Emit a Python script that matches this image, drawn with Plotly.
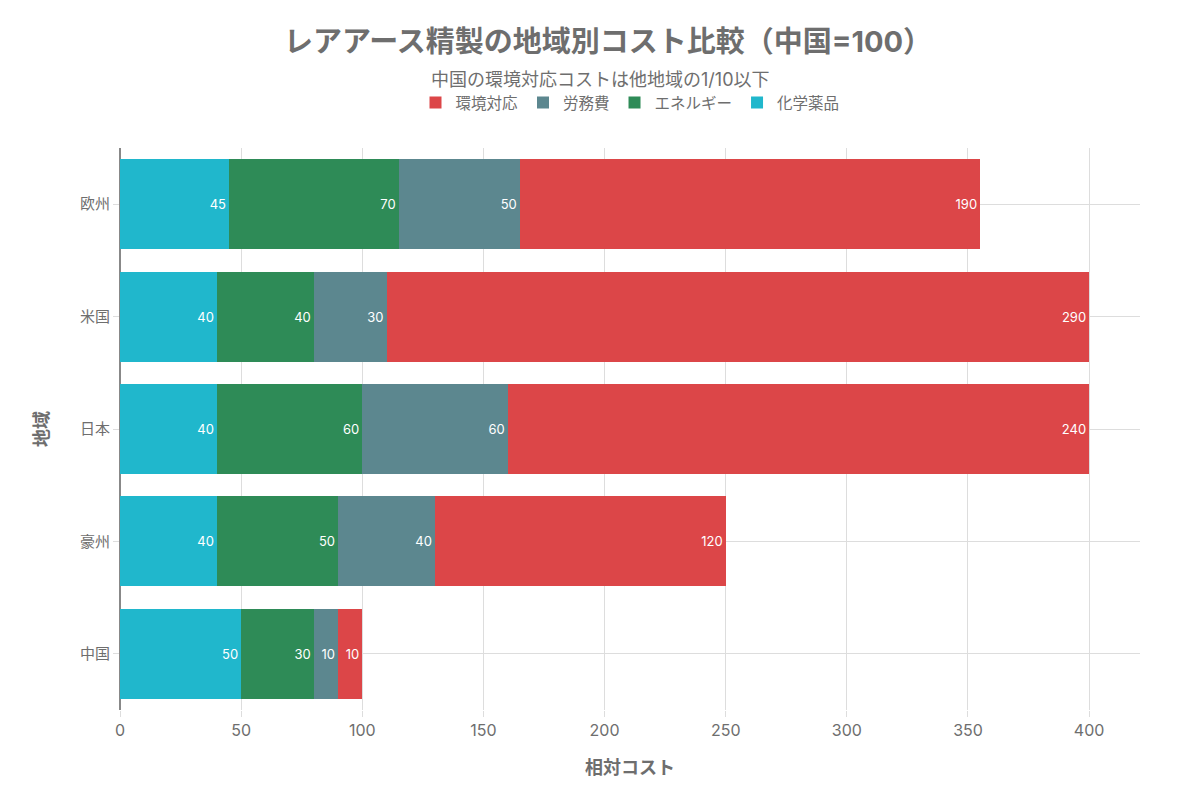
import plotly.graph_objects as go

regions = ['中国', '豪州', '日本', '米国', '欧州']
series_names = ['化学薬品', 'エネルギー', '労務費', '環境対応']
chemicals = [50, 40, 40, 40, 45]
energy = [30, 50, 60, 40, 70]
labor = [10, 40, 60, 30, 50]
environment = [10, 120, 240, 290, 190]

colors = ['#20B7CC', '#2E8B57', '#5C878F', '#DC4648']
FONT = 'Inter, Noto Sans CJK JP'
GRAY = '#6E6E6E'

fig = go.Figure()
for name, vals, col in zip(series_names, [chemicals, energy, labor, environment], colors):
    fig.add_trace(go.Bar(
        y=regions, x=vals, name=name, orientation='h',
        marker=dict(color=col, line=dict(width=0)),
        text=vals, textposition='inside', insidetextanchor='end',
        textfont=dict(color='white', size=13, family=FONT),
    ))

# subtitle sits between title and legend, centred on the page like the title
fig.add_annotation(
    text='中国の環境対応コストは他地域の1/10以下',
    xref='paper', yref='paper', x=0.471, y=1.121, xanchor='center', yanchor='middle',
    showarrow=False, font=dict(size=18, color=GRAY, family=FONT),
)

fig.update_layout(
    barmode='stack',
    bargap=0.2,
    width=1200, height=800,
    template='plotly_white',
    font=dict(family=FONT, color=GRAY, size=14),
    title=dict(
        text='<b>レアアース精製の地域別コスト比較（中国=100）</b>',
        x=0.5, xanchor='center', yref='container', y=1 - 34 / 800, yanchor='middle',
        font=dict(size=29, color=GRAY, family=FONT),
    ),
    legend=dict(orientation='h', x=0.5, xanchor='center', y=1.080, yanchor='middle',
                traceorder='reversed', font=dict(size=15.5, color=GRAY)),
    margin=dict(l=112, r=68, t=140, b=98),
    plot_bgcolor='white',
)
fig.update_xaxes(
    title=dict(text='<b>相対コスト</b>', font=dict(size=18, color=GRAY), standoff=22),
    range=[0, 421], dtick=50, automargin=False,
    showgrid=True, gridcolor='#DDDDDD',
    zeroline=True, zerolinecolor='#888888', zerolinewidth=2,
    ticks='outside', tickcolor='#DDDDDD', ticklen=6,
    tickfont=dict(size=16, color=GRAY), showline=False,
)
fig.update_yaxes(
    title=dict(text='<b>地域</b>', font=dict(size=18, color=GRAY), standoff=26),
    automargin=False,
    showgrid=True, gridcolor='#DDDDDD',
    ticks='outside', tickcolor='#DDDDDD', ticklen=6,
    tickfont=dict(size=15, color=GRAY), showline=False,
)

fig.write_html('out.html')
